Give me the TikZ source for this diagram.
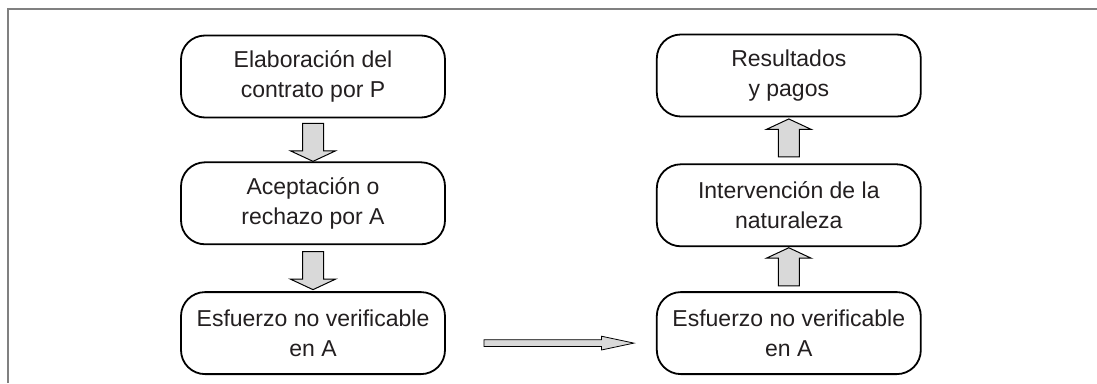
\documentclass[tikz,border=0pt]{standalone}
\usepackage{fontspec}
\setmainfont{Liberation Sans}
\usetikzlibrary{shapes.arrows, positioning, calc}
\definecolor{boxtext}{HTML}{231F20}
\definecolor{arrowbg}{HTML}{D9D9D9}
\definecolor{framegray}{HTML}{808080}

\begin{document}
\begin{tikzpicture}[
    x=1pt, y=1pt,
    stage/.style={draw, line width=1.8pt, rounded corners=24pt, fill=white,
        minimum width=264pt, minimum height=82pt, align=center, text=boxtext,
        font=\fontsize{23}{30}\selectfont},
    flowarrow/.style={single arrow, draw, line width=1pt, fill=arrowbg, inner sep=10pt,
        minimum height=38pt, single arrow head extend=12pt,
        single arrow tip angle=130},
    linkarrow/.style={single arrow, draw, line width=0.8pt, fill=arrowbg, inner sep=3pt,
        minimum height=150pt, single arrow head extend=3.5pt,
        single arrow tip angle=24}
]
\useasboundingbox (0,0) rectangle (1097,-383);
\draw[framegray, line width=2pt] (8,-383) -- (8,-9) -- (1097,-9);

% left column
\node[stage] (contract) at (313,-76.5) {Elaboración del\\contrato por P};
\node[stage, below=43pt of contract] (accept) {Aceptación o\\rechazo por A};
\node[stage, below=46pt of accept] (effortA) {Esfuerzo no verificable\\en A};

% right column
\node[stage, right=210pt of effortA] (effortB) {Esfuerzo no verificable\\en A};
\node[stage, above=44pt of effortB] (nature) {Intervención de la\\naturaleza};
\node[stage, above=46pt of nature] (payoff) {Resultados\\y pagos};

% block arrows
\node[flowarrow, shape border rotate=270] (a1) at ($(contract.south)!0.5!(accept.north)$) {};
\node[flowarrow, shape border rotate=270] (a2) at ($(accept.south)!0.5!(effortA.north)$) {};
\node[flowarrow, shape border rotate=90] (a3) at ($(effortB.north)!0.5!(nature.south)$) {};
\node[flowarrow, shape border rotate=90] (a4) at ($(nature.north)!0.5!(payoff.south)$) {};
\node[linkarrow] (a5) at ($($(effortA.east)!0.5!(effortB.west)$)+(0,-10)$) {};
\end{tikzpicture}
\end{document}
